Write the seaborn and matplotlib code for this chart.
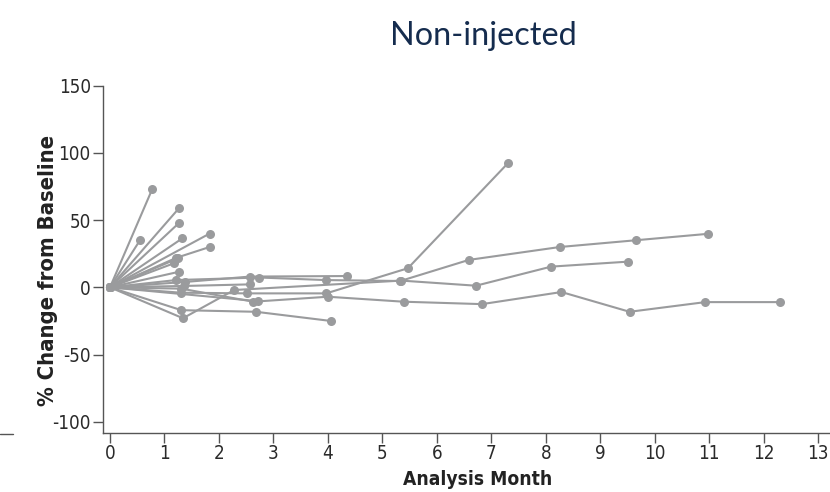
import matplotlib
matplotlib.use("Agg")
import matplotlib.pyplot as plt
from matplotlib.lines import Line2D
import seaborn as sns
import pandas as pd

# ---- data: (analysis month, % change from baseline) per patient ----
m01 = [0, 0.78];  p01 = [0, 73.5]
m02 = [0, 0.55];  p02 = [0, 35]
m03 = [0, 1.27];  p03 = [0, 59]
m04 = [0, 1.27];  p04 = [0, 48]
m05 = [0, 1.33];  p05 = [0, 36.5]
m06 = [0, 1.83];  p06 = [0, 40]
m07 = [0, 1.22, 1.83];  p07 = [0, 22, 30]
m08 = [0, 1.18];  p08 = [0, 18]
m09 = [0, 1.25];  p09 = [0, 21.6]
m10 = [0, 1.27];  p10 = [0, 11.6]
m11 = [0, 1.38, 2.57, 4.35];  p11 = [0, 4, 8, 8.4]
m12 = [0, 1.21, 2.74, 3.96, 5.33, 6.59, 8.26, 9.65, 10.98]
p12 = [0, 5.4, 7.3, 5.4, 4.7, 20.4, 30, 35, 39.8]
m13 = [0, 1.34, 2.28, 5.35, 6.72, 8.1, 9.51]
p13 = [0, -23, -2, 5, 1.2, 15.4, 19.1]
m14 = [0, 1.3, 2.52, 3.97, 5.47, 7.31]
p14 = [0, -4, -4.5, -4.5, 14.2, 92.5]
m15 = [0, 1.31, 2.63, 4.0, 5.39, 6.83, 8.29, 9.54, 10.93, 12.3]
p15 = [0, -1, -10.7, -7, -10.7, -12.5, -3.5, -18.2, -11, -11]
m16 = [0, 1.31, 2.68, 4.05];  p16 = [0, -17, -18.2, -25]
m17 = [0, 1.35, 2.57];  p17 = [0, 1, 2.2]
m18 = [0, 2.72];  p18 = [0, -10.3]

series = [(m01, p01), (m02, p02), (m03, p03), (m04, p04), (m05, p05),
          (m06, p06), (m07, p07), (m08, p08), (m09, p09), (m10, p10),
          (m11, p11), (m12, p12), (m13, p13), (m14, p14), (m15, p15),
          (m16, p16), (m17, p17), (m18, p18)]

x_ticks = list(range(0, 14))
y_ticks = [-100, -50, 0, 50, 100, 150]

rows = []
for pid, (mm, pp) in enumerate(series):
    for order, (a, b) in enumerate(zip(mm, pp)):
        rows.append({"pid": pid, "order": order, "month": a, "pct": b})
df = pd.DataFrame(rows)

sns.set_style("white")
plt.rcParams["font.family"] = ["DejaVu Sans"]
plt.rcParams["font.stretch"] = "condensed"

fig = plt.figure(figsize=(8.30, 4.92), dpi=100)
ax = fig.add_axes([103.3 / 830, 1 - 433.3 / 492, 1 - 103.3 / 830, (433.3 - 85.7) / 492])

gray = "#9a9b9d"
sns.lineplot(data=df, x="month", y="pct", units="pid", estimator=None, sort=False,
             color=gray, linewidth=1.5, marker="o", markersize=6.5,
             markeredgewidth=0, ax=ax, legend=False)

ax.set_xlim(-0.123, 13.22)
ax.set_ylim(-108.6, 150)
ax.set_xticks(x_ticks)
ax.set_yticks(y_ticks)
ax.set_xticklabels([str(t) for t in x_ticks])
ax.set_yticklabels([str(t) for t in y_ticks])

for s in ["top", "right"]:
    ax.spines[s].set_visible(False)
for s in ["left", "bottom"]:
    ax.spines[s].set_color("#555555")
    ax.spines[s].set_linewidth(1.0)

ax.tick_params(axis="both", which="major", direction="out", length=7, width=1,
               color="#555555", labelsize=13.5, labelcolor="#2a2a2a",
               left=True, bottom=True)
ax.tick_params(axis="x", pad=1)
ax.tick_params(axis="y", pad=2)

ax.set_xlabel("Analysis Month", fontsize=13.8, fontweight="bold", color="#222222")
ax.set_ylabel("% Change from Baseline", fontsize=15.8, fontweight="bold", color="#222222")
ax.xaxis.set_label_coords((478 - 103.3) / 726.7, -(470 - 433.3) / 347.6)
ax.yaxis.set_label_coords((58 - 103.3) / 726.7, (433.3 - 270) / 347.6)

fig.text(483 / 830, 1 - 36 / 492, "Non-injected", ha="center", va="center",
         fontsize=23.3, color="#152c4e", family=["Lato", "DejaVu Sans"],
         fontstretch="normal")

# stray fragment of neighbouring axis at the far left
fig.add_artist(Line2D([0, 13 / 830], [1 - 433.5 / 492, 1 - 433.5 / 492],
                      color="#555555", linewidth=1.0))

fig.savefig("out.png", dpi=100)
